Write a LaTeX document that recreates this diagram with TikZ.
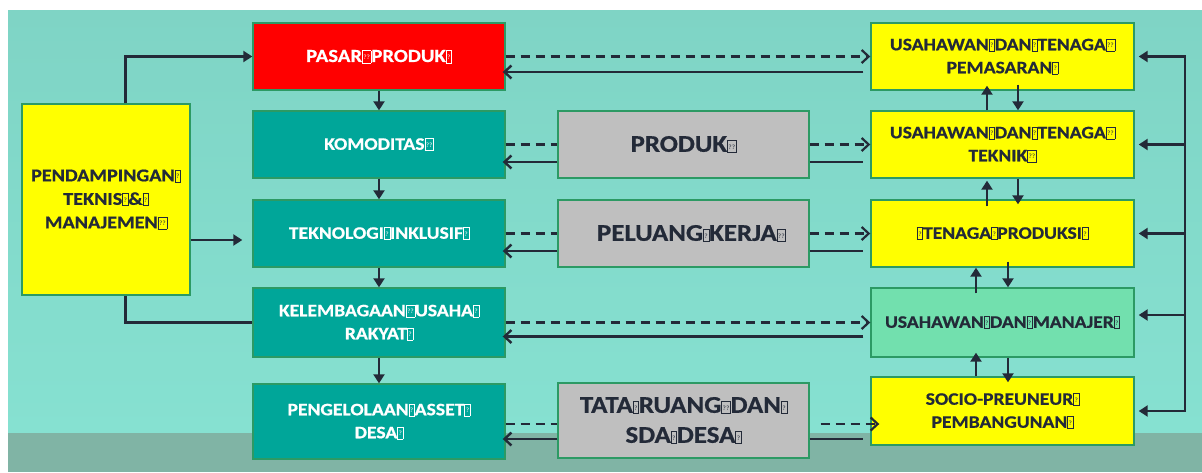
\documentclass[tikz,border=0pt]{standalone}
\usepackage{fontspec}
\setmainfont{Carlito}[FakeStretch=1.12, BoldFeatures={FakeBold=0.7}]
\usetikzlibrary{arrows.meta}

\definecolor{bgteal}{HTML}{80D9C9}
\definecolor{bgtop}{HTML}{7FD4C5}
\definecolor{bglow}{HTML}{86E1D1}
\definecolor{bgband}{HTML}{80B4A5}
\definecolor{boxteal}{HTML}{00A699}
\definecolor{boxred}{HTML}{FF0000}
\definecolor{boxyellow}{HTML}{FFFF00}
\definecolor{boxgray}{HTML}{BFBFBF}
\definecolor{boxmint}{HTML}{72E0AE}
\definecolor{edgegreen}{HTML}{2C9A64}
\definecolor{ink}{HTML}{232A38}

% placeholder glyph boxes that stand in for spaces
\newcommand\gq{{\fboxsep=0.6pt\fboxrule=0.55pt\fbox{\makebox[3.8pt]{\rule{0pt}{10.5pt}\raisebox{2.5pt}{\fontsize{6.5}{6.5}\mdseries\selectfont ?}}}}}
\newcommand\gqq{{\fboxsep=0.6pt\fboxrule=0.55pt\fbox{\makebox[7pt]{\rule{0pt}{10.5pt}\raisebox{2.5pt}{\fontsize{6.5}{6.5}\mdseries\selectfont ??}}}}}

\tikzset{
  x=1pt, y=-1pt,
  card/.style={draw=edgegreen, line width=1.4pt, align=center, inner sep=1pt,
    minimum width=252pt, minimum height=67pt},
  tealcard/.style={card, fill=boxteal, text=white,
    font=\bfseries\fontsize{17.5}{23}\selectfont},
  redcard/.style={card, fill=boxred, text=white,
    font=\bfseries\fontsize{18.5}{23}\selectfont},
  graycard/.style={card, fill=boxgray, text=ink, minimum width=251pt,
    font=\bfseries\fontsize{24}{30}\selectfont},
  yellowcard/.style={card, fill=boxyellow, text=ink, minimum width=263pt,
    font=\bfseries\fontsize{17.5}{23}\selectfont},
  mintcard/.style={yellowcard, fill=boxmint},
  wire/.style={draw=ink, line width=2.8pt},
  solidarr/.style={wire, -{Triangle[length=9pt,width=11pt]}},
  openarr/.style={wire, -{Straight Barb[length=7pt,width=13pt,line width=2.4pt]}},
  dasharr/.style={draw=ink, line width=2.3pt, dash pattern=on 9pt off 6pt,
    -{Straight Barb[length=7pt,width=13pt,line width=2.2pt]}},
  dashwire/.style={draw=ink, line width=2.3pt, dash pattern=on 9pt off 6pt},
}

\begin{document}
\begin{tikzpicture}
% backdrop
\useasboundingbox (0,0) rectangle (1202,472);
\fill[white] (0,0) rectangle (1202,472);
\shade[top color=bgtop, bottom color=bglow] (8,10) rectangle (1202,433);
\fill[bgband] (8,433) rectangle (1202,472);

% left column
\node[card, fill=boxyellow, text=ink, minimum width=168pt, minimum height=191pt,
  font=\bfseries\fontsize{18}{23.5}\selectfont] (pend) at (106,199.5)
  {PENDAMPINGAN\gq\\ TEKNIS\gq\&\gq\\ MANAJEMEN\gqq};

\node[redcard]  (pasar) at (379,56.5)  {PASAR\gqq PRODUK\gq};
\node[tealcard] (kom)   at (379,144.5) {KOMODITAS\gqq};
\node[tealcard] (tek)   at (379,233.5) {TEKNOLOGI\gq INKLUSIF\gq};
\node[tealcard, minimum height=69pt] (kel) at (379,322.5) {KELEMBAGAAN\gqq USAHA\gq\\ RAKYAT\gq};
\node[tealcard, minimum height=75pt] (peng) at (379,421.5) {PENGELOLAAN\gq ASSET\gq\\ DESA\gq};

% middle column
\node[graycard] (produk)  at (683.5,144.5) {PRODUK\gqq};
\node[graycard] (peluang) at (683.5,233.5) {\hspace*{16pt}PELUANG\gq KERJA\gqq};
\node[graycard, minimum height=75pt] (tata) at (683.5,420.5) {TATA\gq RUANG\gqq DAN\gq\\ SDA\gq DESA\gq};

% right column
\node[yellowcard] (pem)   at (1002.5,56.5)  {USAHAWAN\gq DAN\gq TENAGA\gqq\\ PEMASARAN\gq};
\node[yellowcard] (tekn)  at (1002.5,144.5) {USAHAWAN\gq DAN\gq TENAGA\gqq\\ TEKNIK\gqq};
\node[yellowcard] (prod)  at (1002.5,233.5) {\gq TENAGA\gq PRODUKSI\gq};
\node[mintcard, minimum height=69pt] (man) at (1002.5,322.5) {USAHAWAN\gq DAN\gq MANAJER\gq};
\node[yellowcard, minimum height=68pt] (socio) at (1002.5,411) {SOCIO-PREUNEUR\gq\\ PEMBANGUNAN\gq};

% mentoring links out of the left box
\draw[solidarr] ([xshift=19.5pt]pend.north) |- (pasar.west);
\draw[solidarr, shorten >=10pt] ([yshift=-40.5pt]pend.east) -- ([yshift=-40.5pt]pend.east -| tek.west);
\draw[wire] ([xshift=19.5pt]pend.south) |- (kel.west);

% chain down the left column
\draw[solidarr] (pasar) -- (kom);
\draw[solidarr] (kom) -- (tek);
\draw[solidarr] (tek) -- (kel);
\draw[solidarr] (kel) -- (peng);

% market row
\draw[dasharr] (pasar.east) -- (pem.west);
\draw[openarr, shorten <=7pt, shorten >=-3pt] ([yshift=-15.5pt]pem.west) -- ([yshift=-15.5pt]pem.west -| pasar.east);

% commodity / product row
\draw[dashwire] (kom.east) -- (produk.west);
\draw[openarr, shorten >=-3pt] ([yshift=-17.5pt]produk.west) -- ([yshift=-17.5pt]produk.west -| kom.east);
\draw[dasharr] (produk.east) -- (tekn.west);
\draw[wire, shorten >=7pt] ([yshift=-17.5pt]produk.east) -- ([yshift=-17.5pt]produk.east -| tekn.west);

% technology / jobs row
\draw[dashwire] (tek.east) -- (peluang.west);
\draw[openarr, shorten >=-3pt] ([yshift=-17.5pt]peluang.west) -- ([yshift=-17.5pt]peluang.west -| tek.east);
\draw[dasharr] (peluang.east) -- (prod.west);
\draw[wire, shorten >=7pt] ([yshift=-17.5pt]peluang.east) -- ([yshift=-17.5pt]peluang.east -| prod.west);

% institution row
\draw[dasharr] (kel.east) -- (man.west);
\draw[openarr, shorten <=7pt, shorten >=-3pt] ([yshift=-14pt]man.west) -- ([yshift=-14pt]man.west -| kel.east);

% asset row
\draw[dashwire] ([yshift=-2.5pt]peng.east) -- ([yshift=-2.5pt]peng.east -| tata.west);
\draw[openarr, shorten >=-3pt] ([yshift=-18.5pt]tata.west) -- ([yshift=-18.5pt]tata.west -| peng.east);
\draw[dasharr, shorten <=11pt, shorten >=-9pt] ([yshift=-3.5pt]tata.east) -- ([yshift=-3.5pt]tata.east -| socio.west);
\draw[wire, shorten >=7pt] ([yshift=-18.5pt]tata.east) -- ([yshift=-18.5pt]tata.east -| socio.west);

% links inside the right column
\draw[solidarr] ([xshift=-15.5pt]tekn.north) -- ([xshift=-15.5pt,yshift=5pt]pem.south);
\draw[solidarr] ([xshift=15.5pt,yshift=6pt]pem.south) -- ([xshift=15.5pt]tekn.north);
\draw[solidarr] ([xshift=-15.5pt,yshift=-7pt]prod.north) -- ([xshift=-15.5pt,yshift=-2pt]tekn.south);
\draw[solidarr] ([xshift=15.5pt]tekn.south) -- ([xshift=15.5pt,yshift=-5pt]prod.north);
\draw[solidarr] ([xshift=-26.5pt,yshift=-6pt]man.north) -- ([xshift=-26.5pt]prod.south);
\draw[solidarr] ([xshift=5.5pt,yshift=6pt]prod.south) -- ([xshift=5.5pt]man.north);
\draw[solidarr] ([xshift=-26.5pt]socio.north) -- ([xshift=-26.5pt,yshift=5pt]man.south);
\draw[solidarr] ([xshift=5.5pt]man.south) -- ([xshift=5.5pt,yshift=-6pt]socio.north);

% feedback bus on the right
\coordinate (bustop) at (1185,56.5);
\coordinate (busbot) at (1185,411);
\draw[wire] ([yshift=1.4pt]bustop) -- ([yshift=-1.4pt]busbot);
\draw[solidarr, shorten >=4pt] (bustop) -- (pem.east);
\draw[solidarr, shorten >=4pt] (bustop |- tekn.east) -- (tekn.east);
\draw[solidarr, shorten >=4pt] (bustop |- prod.east) -- (prod.east);
\draw[solidarr, shorten >=4pt] ([yshift=7.5pt]man.east -| bustop) -- ([yshift=7.5pt]man.east);
\draw[solidarr, shorten >=4pt] (busbot) -- (socio.east);
\end{tikzpicture}
\end{document}
